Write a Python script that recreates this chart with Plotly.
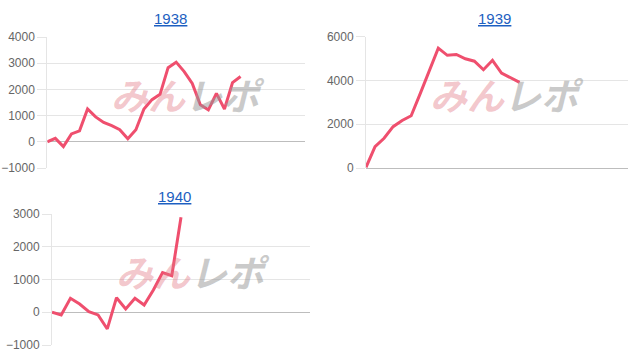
import plotly.graph_objects as go

# ---- data ----
titles = ["1938", "1939", "1940"]
values_1938 = [0, 130, -180, 300, 420, 1250, 950, 740, 615, 460, 115, 460, 1250,
               1610, 1810, 2830, 3040, 2680, 2230, 1410, 1220, 1850, 1250, 2260, 2490]
values_1939 = [30, 980, 1360, 1890, 2170, 2390, 3400, 4400, 5480, 5150, 5190, 4990,
               4880, 4490, 4920, 4340, 4110, 3910]
values_1940 = [0, -80, 425, 250, 20, -80, -510, 445, 100, 425, 220, 680, 1210, 1115, 2900]
x_slots = [32, 29, 28]          # number of intervals on each category axis
y_ranges = [[-1000, 4000], [0, 6000], [-1000, 3000]]
y_dtick = [1000, 2000, 1000]

series = [values_1938, values_1939, values_1940]

W, H = 634, 358
# plot areas in pixels: left, right, top, bottom
areas = [(47.3, 305, 37, 168), (366, 628, 36.7, 168), (52, 310, 214, 345)]
title_pos = [(170, 18), (494, 18), (174, 196)]

LINE = "#ef4f6e"
GRID = "#e5e5e5"
ZERO = "#bdbdbd"
FONT = "Liberation Sans, Arial, Helvetica, sans-serif"

fig = go.Figure()
annotations = []
layout = dict(width=W, height=H, margin=dict(l=0, r=0, t=0, b=0, autoexpand=False),
              paper_bgcolor="white", plot_bgcolor="white", showlegend=False,
              font=dict(family=FONT, size=12, color="#666666"))

for i, vals in enumerate(series):
    n = i + 1
    xa = "x" if n == 1 else f"x{n}"
    ya = "y" if n == 1 else f"y{n}"
    xkey = "xaxis" if n == 1 else f"xaxis{n}"
    ykey = "yaxis" if n == 1 else f"yaxis{n}"
    l, r, t, b = areas[i]
    dom_x = [l / W, r / W]
    dom_y = [1 - b / H, 1 - t / H]

    fig.add_trace(go.Scatter(x=list(range(len(vals))), y=vals, mode="lines",
                             line=dict(color=LINE, width=3), xaxis=xa, yaxis=ya,
                             hoverinfo="skip"))
    layout[xkey] = dict(domain=dom_x, range=[0, x_slots[i]], showgrid=False,
                        showticklabels=False, zeroline=False, showline=False,
                        automargin=False, anchor=ya)
    layout[ykey] = dict(domain=dom_y, range=y_ranges[i], dtick=y_dtick[i],
                        tick0=0, showgrid=True, gridcolor=GRID, gridwidth=1,
                        zeroline=True, zerolinecolor=ZERO, zerolinewidth=1,
                        showline=True, linecolor=GRID, linewidth=1,
                        ticks="outside", ticklen=9, tickcolor=GRID,
                        automargin=False,
                        tickfont=dict(size=12, color="#666666"), anchor=xa)

    # title
    tx, ty = title_pos[i]
    annotations.append(dict(text=f"<u>{titles[i]}</u>", x=tx / W, y=1 - ty / H,
                            xref="paper", yref="paper", showarrow=False,
                            xanchor="center", yanchor="middle",
                            font=dict(size=15, color="#1d5fc1", family=FONT)))
    # watermark
    wy = 1 - (t + 57) / H
    annotations.append(dict(text="<b><i>みん</i></b>", x=(l + 101) / W, y=wy,
                            xref="paper", yref="paper", showarrow=False,
                            xanchor="center", yanchor="middle",
                            font=dict(size=37, color="rgba(226,120,132,0.42)",
                                      family="Noto Sans CJK JP")))
    annotations.append(dict(text="<b><i>レポ</i></b>", x=(l + 178) / W, y=wy,
                            xref="paper", yref="paper", showarrow=False,
                            xanchor="center", yanchor="middle",
                            font=dict(size=37, color="rgba(150,150,150,0.50)",
                                      family="Noto Sans CJK JP")))

layout["annotations"] = annotations
fig.update_layout(**layout)
fig.write_html("out.html")
